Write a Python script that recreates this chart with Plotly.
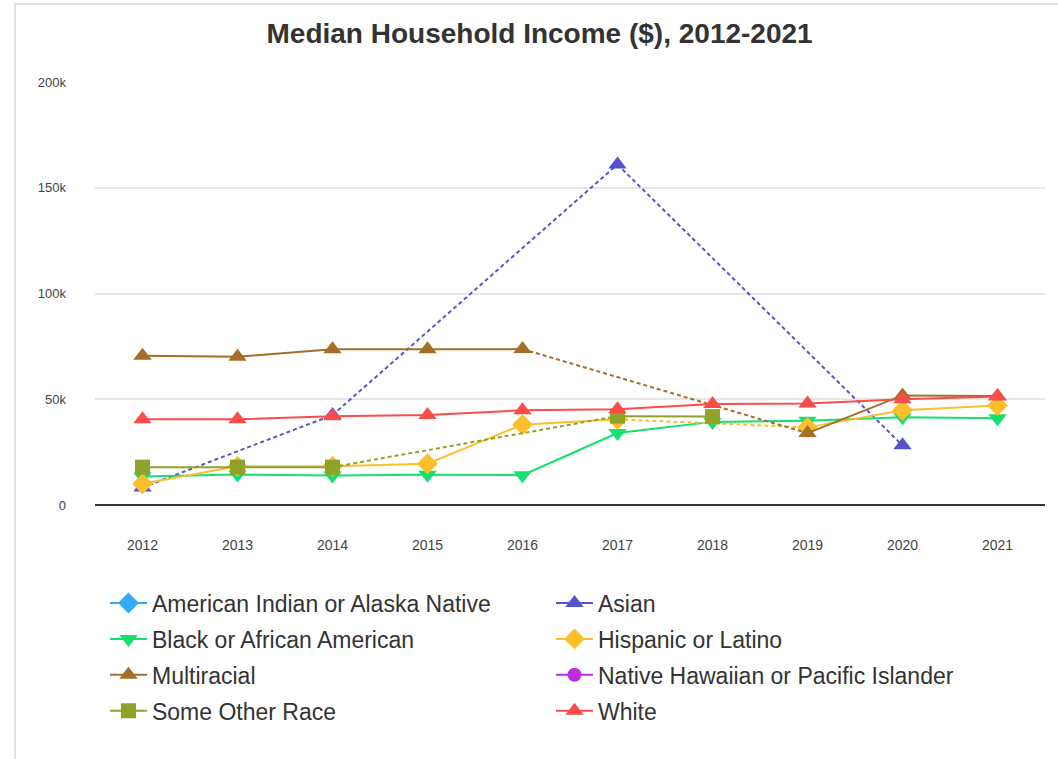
import plotly.graph_objects as go

years = ["2012", "2013", "2014", "2015", "2016", "2017", "2018", "2019", "2020", "2021"]

american_indian = [None, None, None, None, None, None, None, None, None, None]
asian = [8300, None, 42500, None, None, 161000, None, None, 28200, None]
black = [13500, 14400, 14000, 14300, 14100, 34000, 39300, 39800, 41500, 41000]
hispanic = [10000, 18300, 18300, 19500, 38000, 40500, None, 36700, 44800, 47000]
multiracial = [70600, 70100, 73600, 73600, 73700, None, None, 34000, 51800, 51500]
native_hawaiian = [None, None, None, None, None, None, None, None, None, None]
other_race = [17900, 17900, 17900, None, None, 42000, 41800, None, None, None]
white = [40500, 40500, 42000, 42500, 44800, 45300, 47700, 48000, 50000, 51300]

# name, values, colour, marker, size, legend column
series = [
    ("American Indian or Alaska Native", american_indian, "#33aaf5", "diamond", 16, "legend"),
    ("Asian", asian, "#5654cc", "triangle-up", 16, "legend2"),
    ("Black or African American", black, "#12e06f", "triangle-down", 16, "legend"),
    ("Hispanic or Latino", hispanic, "#fbbf2c", "diamond", 16, "legend2"),
    ("Multiracial", multiracial, "#a46e28", "triangle-up", 16, "legend"),
    ("Native Hawaiian or Pacific Islander", native_hawaiian, "#bb2de0", "circle", 14, "legend2"),
    ("Some Other Race", other_race, "#90a22a", "square", 15, "legend"),
    ("White", white, "#fb4c4a", "triangle-up", 16, "legend2"),
]


def gap_segments(xs, ys):
    # dashed links between known points that have missing years in between
    idx = [i for i, v in enumerate(ys) if v is not None]
    gx, gy = [], []
    for a, b in zip(idx, idx[1:]):
        if b - a > 1:
            gx += [xs[a], xs[b], None]
            gy += [ys[a], ys[b], None]
    return gx, gy


fig = go.Figure()
for name, vals, color, sym, size, leg in series:
    gx, gy = gap_segments(years, vals)
    if gx:
        fig.add_trace(go.Scatter(x=gx, y=gy, mode="lines", showlegend=False,
                                 line=dict(color=color, width=2, dash="4px,3px"),
                                 hoverinfo="skip"))
    fig.add_trace(go.Scatter(x=years, y=vals, mode="lines+markers", name=name,
                             connectgaps=False, legend=leg, legendgroup=name,
                             line=dict(color=color, width=2),
                             marker=dict(symbol=sym, size=size, color=color)))

leg_style = dict(orientation="v", y=-0.181, yanchor="top", xanchor="left",
                 font=dict(size=23, color="#333"), tracegroupgap=3, itemwidth=37,
                 bgcolor="rgba(0,0,0,0)")

fig.update_layout(
    width=1058, height=759,
    margin=dict(l=95, r=13, t=82, b=254, autoexpand=False),
    paper_bgcolor="white", plot_bgcolor="white",
    font=dict(family="Liberation Sans, Arial, sans-serif", color="#333"),
    title=dict(text="<b>Median Household Income ($), 2012-2021</b>",
               x=0.51, xanchor="center", y=0.956, yanchor="middle",
               font=dict(size=28, color="#333")),
    showlegend=True,
    legend=dict(x=0.0105, **leg_style),
    legend2=dict(x=0.48, **leg_style),
    shapes=[dict(type="rect", xref="paper", yref="paper",
                 x0=(15 - 95) / 950, x1=(1080 - 95) / 950,
                 y0=(504.5 - 780) / 422.5, y1=(504.5 - 4) / 422.5,
                 line=dict(color="#e2e2e2", width=2))],
)
fig.update_xaxes(type="category", range=[-0.5, 9.5], showgrid=False, showline=False,
                 ticks="", ticklabelstandoff=30, tickfont=dict(size=14, color="#444"))
fig.update_yaxes(range=[0, 200000], dtick=50000, showgrid=True, gridcolor="#e6e6e6",
                 gridwidth=2, zeroline=True, zerolinecolor="#333", zerolinewidth=2,
                 ticks="", ticklabelstandoff=28, tickfont=dict(size=13, color="#444"))

# page body has an 8px default margin; drop it so the chart sits at 0,0
fig.write_html("out.html", config={"displayModeBar": False},
               post_script="document.body.style.margin='0';")
